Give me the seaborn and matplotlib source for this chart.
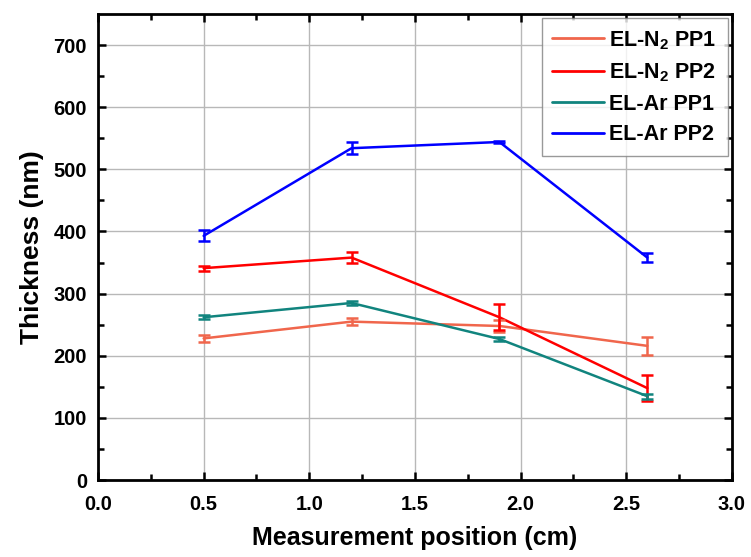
import numpy as np
import pandas as pd
import matplotlib
matplotlib.use("Agg")
import matplotlib.pyplot as plt
import seaborn as sns

# ==============================
# data
# ==============================
positions = [0.5, 1.2, 1.9, 2.6]

n2_pp1 = [228, 255, 248, 216]
n2_pp1_err = [6, 6, 10, 15]
n2_pp2 = [341, 358, 262, 148]
n2_pp2_err = [4, 9, 21, 21]
ar_pp1 = [262, 285, 227, 135]
ar_pp1_err = [3, 3, 3, 4]
ar_pp2 = [393, 534, 544, 358]
ar_pp2_err = [9, 10, 2, 7]

series_names = ["EL-N$_2$ PP1", "EL-N$_2$ PP2", "EL-Ar PP1", "EL-Ar PP2"]
series_colors = ["#F0664C", "#FF0000", "#11847E", "#0000FF"]

# long-form table for seaborn
frames = []
for name, vals, errs in zip(series_names,
                            [n2_pp1, n2_pp2, ar_pp1, ar_pp2],
                            [n2_pp1_err, n2_pp2_err, ar_pp1_err, ar_pp2_err]):
    frames.append(pd.DataFrame({"position": positions, "thickness": vals,
                                "err": errs, "series": name}))
df = pd.concat(frames, ignore_index=True)

# ==============================
# style
# ==============================
sns.set_style("ticks")
plt.rcParams["font.family"] = ["Liberation Sans", "DejaVu Sans"]
plt.rcParams["font.weight"] = "bold"
plt.rcParams["mathtext.fontset"] = "custom"
plt.rcParams["mathtext.rm"] = "Liberation Sans:bold"
plt.rcParams["mathtext.it"] = "Liberation Sans:bold"
plt.rcParams["mathtext.bf"] = "Liberation Sans:bold"
for key in ["text.color", "axes.labelcolor", "xtick.color", "ytick.color"]:
    plt.rcParams[key] = "black"

fig = plt.figure(figsize=(7.51, 5.57), dpi=100)
ax = fig.add_axes([0.1305, 0.138, 0.844, 0.837])

palette = dict(zip(series_names, series_colors))
sns.lineplot(data=df, x="position", y="thickness", hue="series",
             hue_order=series_names, palette=palette, linewidth=1.8,
             errorbar=None, ax=ax, zorder=3)

for name in series_names:
    sub = df[df["series"] == name]
    ax.errorbar(sub["position"], sub["thickness"], yerr=sub["err"],
                fmt="none", ecolor=palette[name], elinewidth=1.8,
                capsize=4, capthick=1.8, zorder=3)

ax.set_xlim(0, 3.0)
ax.set_ylim(0, 750)
ax.set_xticks(np.arange(0, 3.01, 0.5))
ax.set_yticks(np.arange(0, 701, 100))
ax.set_xticks(np.arange(0.25, 3.0, 0.5), minor=True)
ax.set_yticks(np.arange(50, 750, 100), minor=True)
ax.xaxis.set_major_formatter(matplotlib.ticker.FormatStrFormatter("%.1f"))

ax.grid(which="major", color="#b8b8b8", linewidth=1.0, zorder=0)
ax.set_axisbelow(True)

ax.tick_params(which="both", direction="in", top=True, right=True,
               width=1.8, labelsize=14.5)
ax.tick_params(which="major", length=6)
ax.tick_params(which="minor", length=4)
ax.tick_params(axis="x", which="major", pad=11)
ax.tick_params(axis="y", which="major", pad=8)
for lab in ax.get_xticklabels() + ax.get_yticklabels():
    lab.set_fontweight("bold")
for sp in ax.spines.values():
    sp.set_linewidth(2)
    sp.set_color("black")

ax.set_xlabel("Measurement position (cm)", fontsize=18, fontweight="bold", labelpad=8)
ax.set_ylabel("Thickness (nm)", fontsize=19, fontweight="bold", labelpad=7)

leg = ax.legend(loc="upper right", fontsize=15.5, frameon=True, fancybox=False,
                edgecolor="#808080", handlelength=2.4, handletextpad=0.25,
                borderpad=0.5, labelspacing=0.45, borderaxespad=0.2)
leg.get_frame().set_linewidth(1.0)
leg.set_title(None)
for line in leg.get_lines():
    line.set_linewidth(2)
for txt in leg.get_texts():
    txt.set_fontweight("bold")

fig.savefig("out.png", dpi=100)
